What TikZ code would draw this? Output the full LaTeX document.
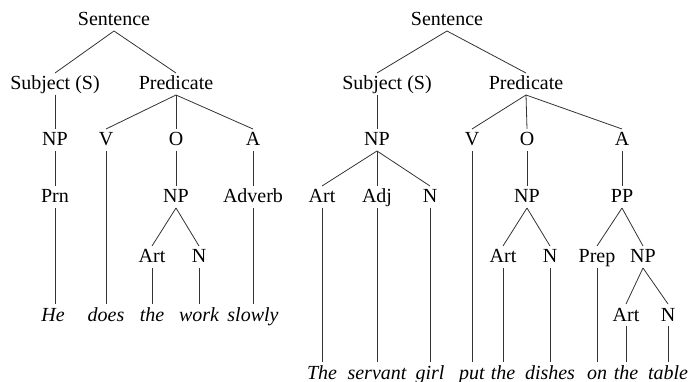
\documentclass[tikz,border=0pt]{standalone}
\usepackage{fontspec}
\setmainfont{Liberation Serif}
\begin{document}
\begin{tikzpicture}[x=1pt,y=-1pt,
  lab/.style={inner sep=0pt,outer sep=0pt,text height=17pt,text depth=5pt,
    font=\fontsize{20}{24}\selectfont},
  word/.style={lab,font=\fontsize{20}{24}\selectfont\itshape},
  br/.style={draw=black!80,line width=0.8pt}]
\useasboundingbox (0,0) rectangle (691,382);

% ---- He does the work slowly ----
\node[lab] (s1)    at (114,20)  {Sentence};
\node[lab] (subj1) at (55,84)   {Subject (S)};
\node[lab] (pred1) at (176,84)  {Predicate};
\node[lab] (np1)   at (55,140)  {NP};
\node[lab] (v1)    at (106,140) {V};
\node[lab] (o1)    at (176,140) {O};
\node[lab] (a1)    at (253,140) {A};
\node[lab] (prn1)  at (55,197)  {Prn};
\node[lab] (npo1)  at (176,197) {NP};
\node[lab] (adv1)  at (253,197) {Adverb};
\node[lab] (art1)  at (152,257) {Art};
\node[lab] (n1)    at (199,257) {N};
\node[word] (he)     at (53,315)  {He};
\node[word] (does)   at (106,315) {does};
\node[word] (the1)   at (152,315) {the};
\node[word] (work)   at (199,315) {work};
\node[word] (slowly) at (253,315) {slowly};

\draw[br] (s1.south) -- (subj1.north);
\draw[br] (s1.south) -- (pred1.north);
\draw[br] (subj1.south) -- (np1.north);
\draw[br] (pred1.south) -- (v1.north);
\draw[br] (pred1.south) -- (o1.north);
\draw[br] (pred1.south) -- (a1.north);
\draw[br] (np1.south) -- (prn1.north);
\draw[br] (o1.south) -- (npo1.north);
\draw[br] (a1.south) -- (adv1.north);
\draw[br] (npo1.south) -- (art1.north);
\draw[br] (npo1.south) -- (n1.north);
\draw[br] (prn1.south) -- (prn1.south |- he.north);
\draw[br] (v1.south) -- (does.north);
\draw[br] (art1.south) -- (the1.north);
\draw[br] (n1.south) -- (work.north);
\draw[br] (adv1.south) -- (slowly.north);

% ---- The servant girl put the dishes on the table ----
\node[lab] (s2)    at (447,20)  {Sentence};
\node[lab] (subj2) at (387,84)  {Subject (S)};
\coordinate (subj2top) at ([xshift=-10pt]subj2.north);
\coordinate (subj2bot) at ([xshift=-10pt]subj2.south);
\node[lab] (pred2) at (526,84)  {Predicate};
\node[lab] (np2)   at (377,140) {NP};
\node[lab] (v2)    at (472,140) {V};
\node[lab] (o2)    at (527,140) {O};
\node[lab] (a2)    at (622,140) {A};
\node[lab] (art2)  at (322,197) {Art};
\node[lab] (adj2)  at (377,197) {Adj};
\node[lab] (n2)    at (430,197) {N};
\node[lab] (npo2)  at (527,197) {NP};
\node[lab] (pp2)   at (622,197) {PP};
\node[lab] (art3)  at (503,257) {Art};
\node[lab] (n3)    at (550,257) {N};
\node[lab] (prep2) at (597,257) {Prep};
\node[lab] (np3)   at (643,257) {NP};
\node[lab] (art4)  at (626,315) {Art};
\node[lab] (n4)    at (668,315) {N};
\node[word] (w1) at (322,373) {The};
\node[word] (w2) at (377,373) {servant};
\node[word] (w3) at (430,373) {girl};
\node[word] (w4) at (472,373) {put};
\node[word] (w5) at (503,373) {the};
\node[word] (w6) at (550,373) {dishes};
\node[word] (w7) at (597,373) {on};
\node[word] (w8) at (626,373) {the};
\node[word] (w9) at (668,373) {table};

\draw[br] (s2.south) -- (subj2top);
\draw[br] (s2.south) -- (pred2.north);
\draw[br] (subj2bot) -- (np2.north);
\draw[br] (pred2.south) -- (v2.north);
\draw[br] (pred2.south) -- (o2.north);
\draw[br] (pred2.south) -- (a2.north);
\draw[br] (np2.south) -- (art2.north);
\draw[br] (np2.south) -- (adj2.north);
\draw[br] (np2.south) -- (n2.north);
\draw[br] (o2.south) -- (npo2.north);
\draw[br] (a2.south) -- (pp2.north);
\draw[br] (npo2.south) -- (art3.north);
\draw[br] (npo2.south) -- (n3.north);
\draw[br] (pp2.south) -- (prep2.north);
\draw[br] (pp2.south) -- (np3.north);
\draw[br] (np3.south) -- (art4.north);
\draw[br] (np3.south) -- (n4.north);
\draw[br] (art2.south) -- (w1.north);
\draw[br] (adj2.south) -- (w2.north);
\draw[br] (n2.south) -- (w3.north);
\draw[br] (v2.south) -- (w4.north);
\draw[br] (art3.south) -- (w5.north);
\draw[br] (n3.south) -- (w6.north);
\draw[br] (prep2.south) -- (w7.north);
\draw[br] (art4.south) -- (w8.north);
\draw[br] (n4.south) -- (w9.north);
\end{tikzpicture}
\end{document}
